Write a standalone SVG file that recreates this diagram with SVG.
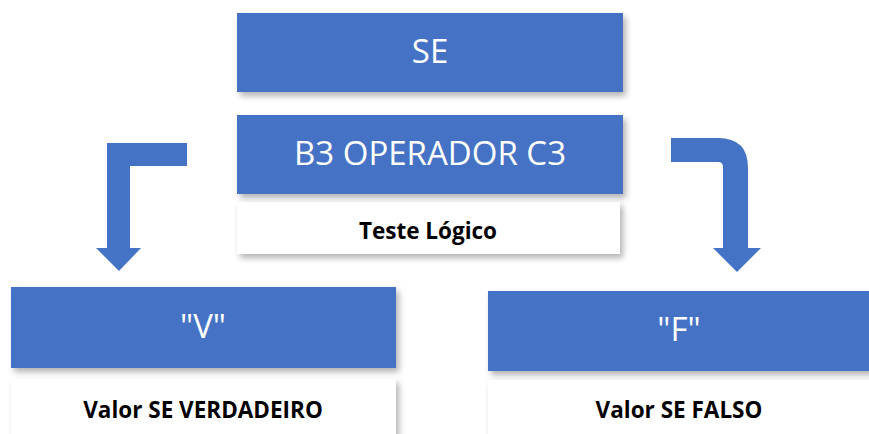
<svg xmlns="http://www.w3.org/2000/svg" width="869" height="434" viewBox="0 0 869 434">
<defs>
<filter id="sh" x="-10%" y="-20%" width="130%" height="160%">
<feDropShadow dx="3" dy="4" stdDeviation="3" flood-color="#000" flood-opacity="0.3"/>
</filter>
<style>
.blue{fill:#4472C4;filter:url(#sh)}
.white{fill:#FFFFFF;filter:url(#sh)}
.big{font-family:"Open Sans","Noto Sans",sans-serif;font-size:33px;fill:#FFFFFF;text-anchor:middle}
.lab{font-family:"Open Sans","Noto Sans",sans-serif;font-size:22.5px;font-weight:bold;fill:#000;text-anchor:middle}
.arrow{fill:#4472C4}
</style>
</defs>
<rect width="869" height="434" fill="#FFFFFF"/>
<g id="se">
<rect class="blue" x="237" y="13" width="386" height="79"/>
<text class="big" x="430" y="63">SE</text>
</g>
<g id="b3">
<rect class="blue" x="237" y="115" width="386" height="79"/>
<text class="big" x="430" y="165">B3 OPERADOR C3</text>
</g>
<g id="teste">
<rect class="white" x="237" y="202" width="383" height="52"/>
<text class="lab" x="428" y="239">Teste Lógico</text>
</g>
<g id="v">
<rect class="blue" x="11" y="287" width="385" height="81"/>
<text class="big" x="203" y="338">"V"</text>
</g>
<g id="vlabel">
<rect class="white" x="11" y="379" width="385" height="60"/>
<text class="lab" x="203" y="418">Valor SE VERDADEIRO</text>
</g>
<g id="f">
<rect class="blue" x="488" y="291" width="385" height="80"/>
<text class="big" x="679" y="341">"F"</text>
</g>
<g id="flabel">
<rect class="white" x="488" y="380" width="385" height="60"/>
<text class="lab" x="679" y="418">Valor SE FALSO</text>
</g>
<g id="connectors">
<path class="arrow" d="M187,143 L107,143 L107,248 L96,248 L119,271 L141,248 L130,248 L130,166 L187,166 Z"/>
<path class="arrow" d="M671,138 L718,138 Q748,138 748,168 L748,248 L761,248 L737,272 L713,248 L723,248 L723,167 Q723,162 718,162 L671,162 Z"/>
</g>
</svg>
